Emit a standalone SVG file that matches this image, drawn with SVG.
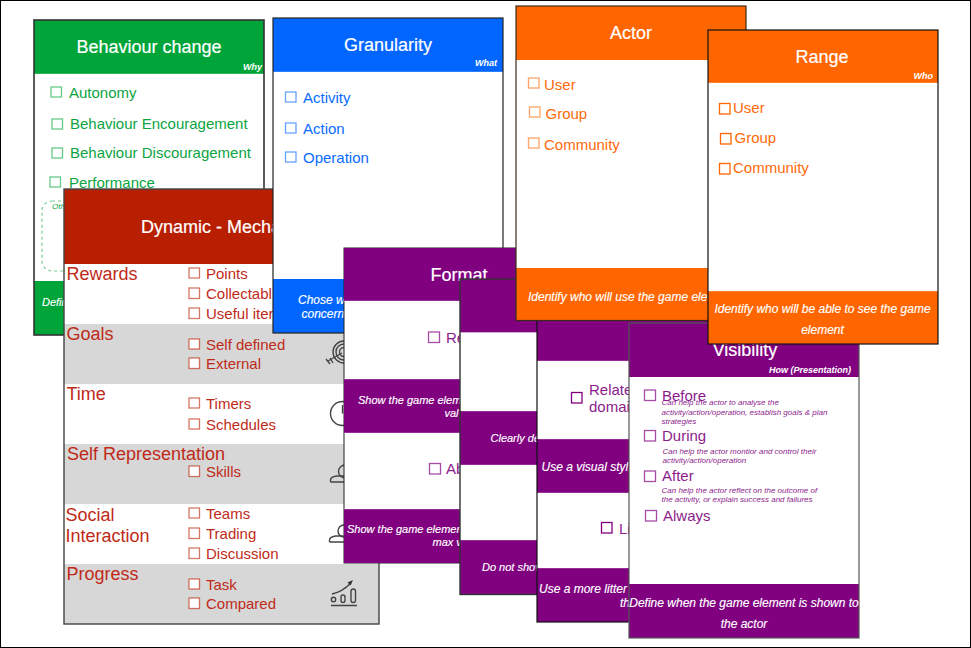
<svg xmlns="http://www.w3.org/2000/svg" width="971" height="648" viewBox="0 0 971 648">
<style>
text{font-family:"Liberation Sans",Arial,sans-serif}
.t{font-size:18px;fill:#fff;stroke:#fff;stroke-width:.2}
.s{font-size:9px;font-weight:bold;font-style:italic;fill:#fff;text-anchor:end}
.f{font-size:12px;font-style:italic;fill:#fff;stroke:#fff;stroke-width:.15}
.f11{font-size:11px;font-style:italic;fill:#fff;stroke:#fff;stroke-width:.15}
.m{text-anchor:middle}
.i{font-size:15px}
.c{fill:#fff;stroke-width:1.3}
.g text.i,.g .k{fill:#0aa53f}.g .c{stroke:#00a539;stroke-opacity:.6}
.b text.i{fill:#0a6cff}.b .c{stroke:#0066ff;stroke-opacity:.6}
.o text.i{fill:#ff6a0a}.o .c{stroke:#ff6600;stroke-opacity:.6}
.o2 .c{stroke-opacity:1}
.p text.i,.p .n{fill:#8c1c8c}.p .c{stroke:#800080;stroke-opacity:.7}
.p2 .c{stroke-opacity:1}
.r text.i,.r .h{fill:#bf2a18}.r .c{stroke:#b81e00;stroke-opacity:.6}
.h{font-size:18px}
.n{font-size:8px;font-style:italic}
.ic{fill:none;stroke:#444;stroke-width:1.4}
.bl{fill:none;stroke:#fff;stroke-opacity:.35}
</style>
<rect x="0.5" y="0.5" width="970" height="647" fill="#fff" stroke="#000"/>

<g id="behaviour-change" class="g">
<rect x="34" y="20" width="230" height="315" fill="#fff"/>
<rect x="34" y="20" width="230" height="54" fill="#00a539"/>
<rect x="34" y="281" width="230" height="54" fill="#00a539"/>
<path class="bl" d="M34 74h230"/>
<rect x="34" y="20" width="230" height="315" fill="none" stroke="#333" stroke-width="1.6"/>
<text class="t m" x="149" y="53">Behaviour change</text>
<text class="s" x="262" y="70">Why</text>
<rect class="c" x="51" y="87" width="10.5" height="10"/><text class="i" x="69" y="98">Autonomy</text>
<rect class="c" x="52" y="119" width="10.5" height="10"/><text class="i" x="70" y="129">Behaviour Encouragement</text>
<rect class="c" x="52" y="148" width="10.5" height="10"/><text class="i" x="70" y="158">Behaviour Discouragement</text>
<rect class="c" x="50" y="177" width="10.5" height="10"/><text class="i" x="69" y="188">Performance</text>
<rect x="42" y="201" width="60" height="70" rx="10" fill="none" stroke="#00a539" stroke-opacity=".55" stroke-width="1.2" stroke-dasharray="3 3"/>
<text class="n k" x="52" y="209">Oth</text>
<text class="f11" x="42" y="306">Defin</text>
</g>

<g id="dynamic-mechanics" class="r">
<rect x="64" y="189" width="315" height="435" fill="#fff"/>
<rect x="64" y="189" width="315" height="75" fill="#b81e00"/>
<rect x="64" y="324" width="315" height="60" fill="#d7d7d7"/>
<rect x="64" y="444" width="315" height="60" fill="#d7d7d7"/>
<rect x="64" y="564" width="315" height="60" fill="#d7d7d7"/>
<rect x="64" y="189" width="315" height="435" fill="none" stroke="#444" stroke-width="1.4"/>
<text class="t" x="141" y="233">Dynamic - Mecha</text>
<text class="h" x="66.5" y="280">Rewards</text>
<rect class="c" x="189" y="268" width="10.5" height="10"/><text class="i" x="206" y="279">Points</text>
<rect class="c" x="189" y="288" width="10.5" height="10.5"/><text class="i" x="206" y="299">Collectabl</text>
<rect class="c" x="189" y="308" width="10.5" height="10.5"/><text class="i" x="206" y="319">Useful iter</text>
<text class="h" x="66.5" y="340">Goals</text>
<rect class="c" x="189" y="339" width="10.5" height="10"/><text class="i" x="206" y="350">Self defined</text>
<rect class="c" x="189" y="358" width="10.5" height="10.5"/><text class="i" x="206" y="369">External</text>
<text class="h" x="66.5" y="400">Time</text>
<rect class="c" x="189" y="398" width="10.5" height="10"/><text class="i" x="206" y="409">Timers</text>
<rect class="c" x="189" y="419" width="10.5" height="10"/><text class="i" x="206" y="430">Schedules</text>
<text class="h" x="67" y="460">Self Representation</text>
<rect class="c" x="189" y="466" width="10.5" height="10.5"/><text class="i" x="206" y="477">Skills</text>
<text class="h" x="65.5" y="521">Social</text>
<text class="h" x="65.5" y="542">Interaction</text>
<rect class="c" x="189" y="508" width="10.5" height="10"/><text class="i" x="206" y="519">Teams</text>
<rect class="c" x="189" y="528" width="10.5" height="10.5"/><text class="i" x="206" y="539">Trading</text>
<rect class="c" x="189" y="548" width="10.5" height="10.5"/><text class="i" x="206" y="559">Discussion</text>
<text class="h" x="66.5" y="580">Progress</text>
<rect class="c" x="189" y="579" width="10.5" height="10"/><text class="i" x="206" y="590">Task</text>
<rect class="c" x="189" y="598" width="10.5" height="10.5"/><text class="i" x="206" y="609">Compared</text>
<g class="ic">
<circle cx="344" cy="352" r="11"/><circle cx="344" cy="352" r="8"/><circle cx="344" cy="352" r="4.5"/>
<path d="M328 361L342 353M326 359l4 5M330 358l3 5"/>
<circle cx="342.500" cy="413.500" r="12"/><path d="M342.500 405v8.500"/>
<circle cx="345" cy="471.500" r="6.500"/><path d="M330.500 482v-2q0-3 6-4h8M330.500 482h14"/>
<circle cx="344" cy="531" r="6"/><path d="M329.500 542v-2q0-3 6-4h8M329.500 542h15"/>
<circle cx="333.500" cy="599.500" r="2.200"/><rect x="341" y="595" width="4" height="7.500" rx="2"/><rect x="351" y="589" width="4.500" height="13.500" rx="2.200"/>
<path d="M331 605.500h26M332 594q10-2 19-11"/>
</g>
<path d="M353 580l-5.500 2.500 3 3z" fill="#333"/>
</g>

<g id="granularity" class="b">
<rect x="273" y="18" width="230" height="315" fill="#fff"/>
<rect x="273" y="18" width="230" height="54" fill="#0066ff"/>
<rect x="273" y="279" width="230" height="54" fill="#0066ff"/>
<path class="bl" d="M273 72h230"/>
<rect x="273" y="18" width="230" height="315" fill="none" stroke="#222" stroke-width="1.2"/>
<text class="t m" x="388" y="51">Granularity</text>
<text class="s" x="497" y="66">What</text>
<rect class="c" x="285.500" y="92" width="10.500" height="10"/><text class="i" x="303" y="103">Activity</text>
<rect class="c" x="285.500" y="123" width="10.500" height="10"/><text class="i" x="303" y="134">Action</text>
<rect class="c" x="285.500" y="152" width="10.500" height="10"/><text class="i" x="303" y="163">Operation</text>
<text class="f" x="298" y="304">Chose w</text>
<text class="f" x="301.500" y="318">concern</text>
</g>

<g id="format" class="p">
<rect x="344" y="248" width="230" height="315" fill="#fff" stroke="#222"/>
<rect x="344" y="248" width="230" height="53" fill="#800080"/>
<rect x="344" y="379" width="230" height="54" fill="#800080"/>
<rect x="344" y="509" width="230" height="54" fill="#800080"/>
<path class="bl" d="M344 301h230M344 379h230M344 433h230M344 509h230"/>
<text class="t" x="430.500" y="281">Format</text>
<rect class="c" x="428.500" y="332" width="11" height="10.500"/><text class="i" x="446" y="343">Re</text>
<text class="f11" x="358" y="404">Show the game elem</text>
<text class="f11" x="444.500" y="417">val</text>
<rect class="c" x="429.500" y="463.500" width="11" height="10.500"/><text class="i" x="446" y="474">Ab</text>
<text class="f11" x="347" y="533">Show the game elemen</text>
<text class="f11" x="432.500" y="546">max v</text>
</g>

<g id="card-clarity" class="p">
<rect x="460" y="279" width="230" height="315.500" fill="#fff"/>
<rect x="460" y="279" width="230" height="53.500" fill="#800080"/>
<rect x="460" y="411" width="230" height="54" fill="#800080"/>
<rect x="460" y="540" width="230" height="54.500" fill="#800080"/>
<path class="bl" d="M460 332.500h230M460 411h230M460 465h230M460 540h230"/>
<rect x="460" y="279" width="230" height="315.500" fill="none" stroke="#333" stroke-width="1.400"/>
<text class="f11" x="490.500" y="442">Clearly de</text>
<text class="f11" x="482" y="571">Do not shov</text>
</g>

<g id="card-style" class="p p2">
<rect x="537" y="307" width="230" height="315" fill="#fff"/>
<rect x="537" y="307" width="230" height="54" fill="#800080"/>
<rect x="537" y="439" width="230" height="54" fill="#800080"/>
<rect x="537" y="568" width="230" height="54" fill="#800080"/>
<path class="bl" d="M537 361h230M537 439h230M537 493h230M537 568h230"/>
<rect x="537" y="307" width="230" height="315" fill="none" stroke="#111" stroke-width="1.200"/>
<rect class="c" x="571.500" y="392.500" width="10.500" height="10.500"/>
<text class="i" x="589" y="394.500">Relate</text><text class="i" x="589" y="412">domai</text>
<text class="f" x="541.500" y="471">Use a visual styl</text>
<rect class="c" x="601.500" y="522.500" width="10.500" height="10.500"/><text class="i" x="619" y="533.500">Li</text>
<text class="f" x="539" y="592.500">Use a more litter</text>
<text class="f" x="620" y="607">th</text>
</g>

<g id="actor" class="o">
<rect x="516" y="6" width="230" height="314.500" fill="#fff"/>
<rect x="516" y="6" width="230" height="54" fill="#ff6600"/>
<rect x="516" y="268" width="230" height="52.500" fill="#ff6600"/>
<rect x="516" y="6" width="230" height="314.500" fill="none" stroke="#3a2a1a" stroke-width="1.200"/>
<text class="t m" x="631" y="39">Actor</text>
<rect class="c" x="528.500" y="78" width="10.500" height="10"/><text class="i" x="544" y="90">User</text>
<rect class="c" x="529.500" y="107" width="10.500" height="10"/><text class="i" x="545.500" y="119">Group</text>
<rect class="c" x="528.500" y="138" width="10.500" height="10"/><text class="i" x="544" y="150">Community</text>
<text class="f" x="528" y="301">Identify who will use the game ele</text>
</g>

<g id="visibility" class="p">
<rect x="629" y="323" width="230" height="315" fill="#fff"/>
<rect x="629" y="323" width="230" height="54" fill="#800080"/>
<rect x="629" y="584" width="230" height="54" fill="#800080"/>
<rect x="629" y="323" width="230" height="315" fill="none" stroke="#555" stroke-width="1.200"/>
<text class="t m" x="745" y="356">Visibility</text>
<text class="s" x="851" y="373">How (Presentation)</text>
<rect class="c" x="644.500" y="390" width="11" height="10.500"/><text class="i" x="662" y="401">Before</text>
<text class="n" x="661.500" y="405">Can help the actor to analyse the</text>
<text class="n" x="661.500" y="414.500">activity/action/operation, establish goals &amp; plan</text>
<text class="n" x="661.500" y="424">strategies</text>
<rect class="c" x="644.500" y="430.500" width="11" height="10.500"/><text class="i" x="662" y="441">During</text>
<text class="n" x="662.500" y="453.500">Can help the actor montior and control their</text>
<text class="n" x="662.500" y="462.500">activity/action/operation</text>
<rect class="c" x="644.500" y="471" width="11" height="10.500"/><text class="i" x="662" y="481">After</text>
<text class="n" x="661.500" y="492.500">Can help the actor reflect on the outcome of</text>
<text class="n" x="661.500" y="501.500">the activity, or explain success and failures</text>
<rect class="c" x="645.500" y="510.500" width="11" height="10.500"/><text class="i" x="663" y="521">Always</text>
<text class="f m" x="744" y="607">Define when the game element is shown to</text>
<text class="f m" x="744" y="628">the actor</text>
</g>

<g id="range" class="o o2">
<rect x="708" y="30" width="230" height="314" fill="#fff"/>
<rect x="708" y="30" width="230" height="53" fill="#ff6600"/>
<rect x="708" y="291" width="230" height="53" fill="#ff6600"/>
<path class="bl" d="M708 83h230M708 291h230"/>
<rect x="708" y="30" width="230" height="314" fill="none" stroke="#111" stroke-width="1.200"/>
<text class="t m" x="822" y="63">Range</text>
<text class="s" x="933" y="79">Who</text>
<rect class="c" x="719.500" y="103.500" width="10.500" height="10.500"/><text class="i" x="733" y="113">User</text>
<rect class="c" x="720.500" y="133.500" width="10.500" height="10.500"/><text class="i" x="734.500" y="143">Group</text>
<rect class="c" x="719.500" y="163.500" width="10.500" height="10.500"/><text class="i" x="733" y="173">Community</text>
<text class="f m" x="822.500" y="313">Identify who will be able to see the game</text>
<text class="f m" x="822.500" y="334">element</text>
</g>
</svg>
